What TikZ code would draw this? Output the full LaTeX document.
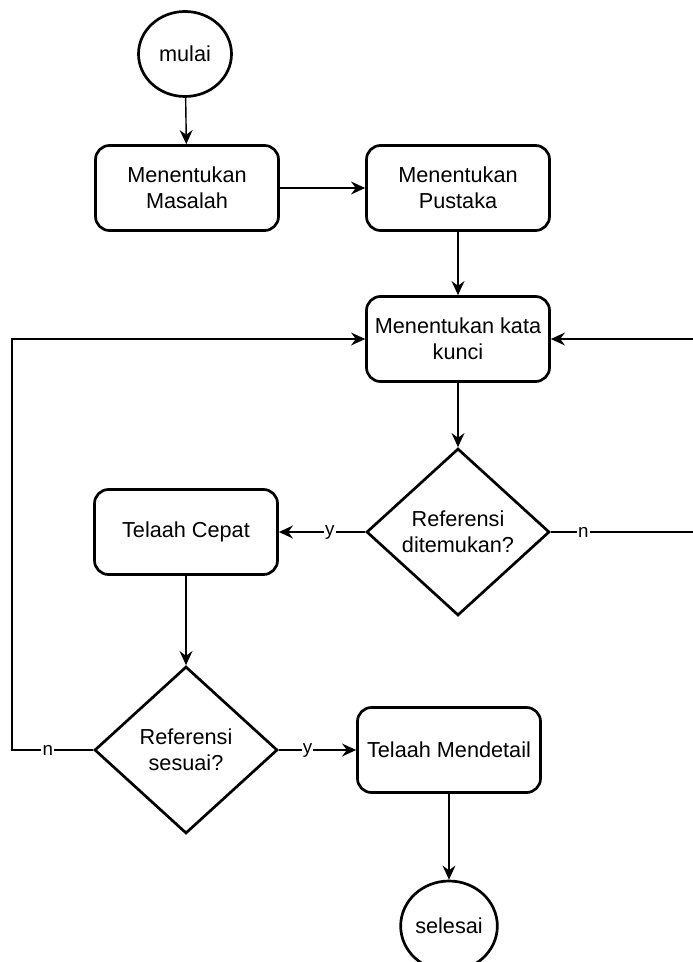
\documentclass[tikz,border=0pt]{standalone}
\usepackage{fontspec}
\setmainfont{Liberation Sans}
\usetikzlibrary{arrows.meta,shapes.geometric}

\begin{document}
\begin{tikzpicture}[x=.03cm,y=-.03cm,
    font=\fontsize{18.5}{22}\selectfont,
    proses/.style={draw,line width=2.3pt,rounded corners=.42cm,align=center,
      minimum width=5.49cm,minimum height=2.55cm,inner sep=0pt},
    putusan/.style={draw,line width=2.3pt,diamond,align=center,
      minimum width=5.49cm,minimum height=5.01cm,inner sep=0pt},
    terminal/.style={draw,line width=2.3pt,ellipse,inner sep=0pt},
    alur/.style={line width=1.2pt,-{Stealth[length=12pt,width=11pt,inset=4pt]}},
    ket/.style={fill=white,inner sep=1pt,font=\fontsize{16}{18}\selectfont}]
  \useasboundingbox (0,0) rectangle (692,962);
  % simpul
  \node[terminal,minimum width=2.79cm,minimum height=2.55cm] (mulai) at (185,54) {mulai};
  \node[proses] (masalah) at (187,188) {Menentukan\\Masalah};
  \node[proses] (pustaka) at (458,188) {Menentukan\\Pustaka};
  \node[proses] (kunci) at (458,339) {Menentukan kata\\kunci};
  \node[putusan] (temu) at (458,532) {Referensi\\ditemukan?};
  \node[proses] (cepat) at (186,532) {Telaah Cepat};
  \node[putusan] (sesuai) at (186,750) {Referensi\\sesuai?};
  \node[proses] (detail) at (449,750) {Telaah Mendetail};
  \node[terminal,minimum width=2.9cm,minimum height=2.7cm] (selesai) at (449,926) {selesai};
  % alur
  \draw[alur] (mulai) -- (masalah);
  \draw[alur] (masalah) -- (pustaka);
  \draw[alur] (pustaka) -- (kunci);
  \draw[alur] (kunci) -- (temu);
  \draw[alur] (temu.west) -- node[ket,pos=.41]{y} (cepat.east);
  \draw[alur] (temu.east) -- node[ket,pos=.22]{n} ++(148,0) |- (kunci.east);
  \draw[alur] (cepat) -- (sesuai);
  \draw[alur] (sesuai.west) -- node[ket,pos=.56]{n} ++(-81,0) |- (kunci.west);
  \draw[alur] (sesuai.east) -- node[ket,pos=.37]{y} (detail.west);
  \draw[alur] (detail) -- (selesai);
\end{tikzpicture}
\end{document}
